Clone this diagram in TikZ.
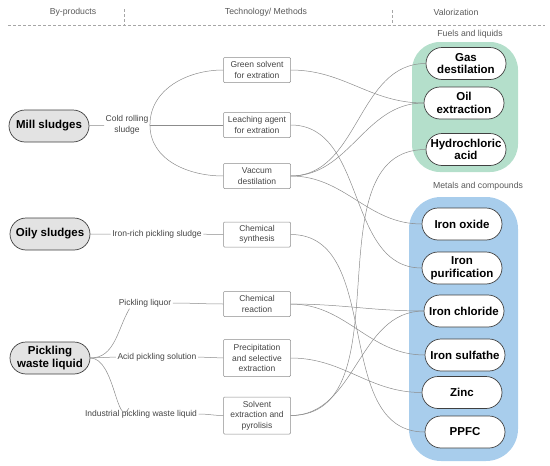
\documentclass[tikz,border=0pt]{standalone}
\usepackage{fontspec}
\setmainfont{Liberation Sans}
\usepackage{tikz}
\usepackage{xcolor}
\definecolor{fuelgreen}{RGB}{180,223,203}
\definecolor{metalblue}{RGB}{168,205,236}
\definecolor{linegray}{RGB}{140,140,140}
\definecolor{textgray}{RGB}{68,68,68}
\tikzset{
  byprod/.style={draw=black!75, fill=black!11, line width=0.7pt, rounded corners=16pt,
    minimum width=80pt, minimum height=32pt, inner sep=1pt, align=center,
    font=\fontsize{11.5}{12.5}\selectfont\bfseries},
  valor/.style={byprod, fill=white},
  method/.style={draw=black!45, line width=0.5pt, rounded corners=1pt, minimum width=67pt,
    minimum height=25pt, inner sep=1.5pt, align=center, text=textgray,
    font=\fontsize{8.5}{10.3}\selectfont},
  via/.style={inner sep=1.5pt, align=center, text=textgray, font=\fontsize{8.5}{10.5}\selectfont},
  head/.style={text=black!65, font=\fontsize{8.7}{10}\selectfont},
  rule/.style={draw=black!35, dash pattern=on 3pt off 2pt, line width=0.5pt},
  link/.style={draw=linegray, line width=0.5pt}
}

\begin{document}
\begin{tikzpicture}[x=1pt,y=-1pt]
    \useasboundingbox (0,0) rectangle (550,466);

    \node[head] (hbyp) at (73,12) {By-products};
    \node[head] (htech) at (266,12) {Technology/ Methods};
    \node[head] (hval) at (456,12) {Valorization};
    \draw[rule] (8,25) -- (545,25);
    \draw[rule] (124,9) -- (124,25);
    \draw[rule] (392,10) -- (392,25);

    \fill[fuelgreen, rounded corners=28pt] (412,42) rectangle (518,172);
    \fill[metalblue, rounded corners=32pt] (409,197) rectangle (518,461);
    \node[head] (hfuel) at (470,34) {Fuels and liquids};
    \node[head] (hmetal) at (478,186) {Metals and compounds};

    \node[byprod] (mill) at (49,126) {Mill sludges};
    \node[byprod] (oily) at (50,234) {Oily sludges};
    \node[byprod] (waste) at (50,358) {Pickling\\waste liquid};

    \node[via] (cold) at (127,125) {Cold rolling\\sludge};
    \node[via] (ironrich) at (157,234) {Iron-rich pickling sludge};
    \node[via] (liquor) at (145,303) {Pickling liquor};
    \node[via] (acid) at (157,357) {Acid pickling solution};
    \node[via] (industrial) at (141,414) {Industrial pickling waste liquid};

    \node[method] (green) at (257,70) {Green solvent\\for extration};
    \node[method] (leach) at (257,125) {Leaching agent\\for extration};
    \node[method] (vacuum) at (257,176) {Vaccum\\destilation};
    \node[method] (synth) at (257,234.5) {Chemical\\synthesis};
    \node[method] (react) at (257,304) {Chemical\\reaction};
    \node[method, minimum height=37pt] (precip) at (257,358) {Precipitation\\and selective\\extraction};
    \node[method, minimum height=37pt] (solvent) at (257,415.5) {Solvent\\extraction and\\pyrolisis};

    \node[valor] (gas) at (466,63.5) {Gas\\destilation};
    \node[valor] (oil) at (464,103) {Oil\\extraction};
    \node[valor] (hcl) at (466,149.5) {Hydrochloric\\acid};
    \node[valor] (feox) at (462,224) {Iron oxide};
    \node[valor] (fepur) at (462,268) {Iron\\purification};
    \node[valor] (fecl) at (464,311) {Iron chloride};
    \node[valor] (fesulf) at (465,355) {Iron sulfathe};
    \node[valor] (zinc) at (462,392.5) {Zinc};
    \node[valor] (ppfc) at (465,432) {PPFC};

    \draw[link] (mill) -- (cold);
    \draw[link] (cold.east) to[out=90,in=180] (green.west);
    \draw[link] (cold.east) -- (leach.west);
    \draw[link] (cold.east) to[out=-90,in=180] (vacuum.west);
    \draw[link] (oily) -- (ironrich) -- (synth);
    \draw[link] (waste.east) to[out=0,in=240] (liquor.200);
    \draw[link] (liquor.east) to[out=0,in=180] (react.west);
    \draw[link] (waste.east) -- (acid.west);
    \draw[link] (acid.east) -- (precip.west);
    \draw[link] (waste.east) to[out=0,in=-120] (industrial.155);
    \draw[link] (industrial.east) to[out=0,in=180] (solvent.west);

    \draw[link] (green.east) to[out=0,in=180] (oil.west);
    \draw[link] (leach.east) to[out=0,in=180] (fepur.west);
    \draw[link] (vacuum.east) to[out=0,in=180] (gas.west);
    \draw[link] (vacuum.east) to[out=0,in=180] (oil.west);
    \draw[link] (vacuum.east) to[out=0,in=180] (feox.west);
    \draw[link] (synth.east) to[out=0,in=180] (ppfc.west);
    \draw[link] (react.east) to[out=0,in=180] (fecl.west);
    \draw[link] (react.east) to[out=0,in=180] (fesulf.west);
    \draw[link] (precip.east) to[out=0,in=180] (zinc.west);
    \draw[link] (solvent.east) to[out=0,in=180] (hcl.west);
    \draw[link] (solvent.east) to[out=0,in=180] (fecl.west);
  \end{tikzpicture}
\end{document}
